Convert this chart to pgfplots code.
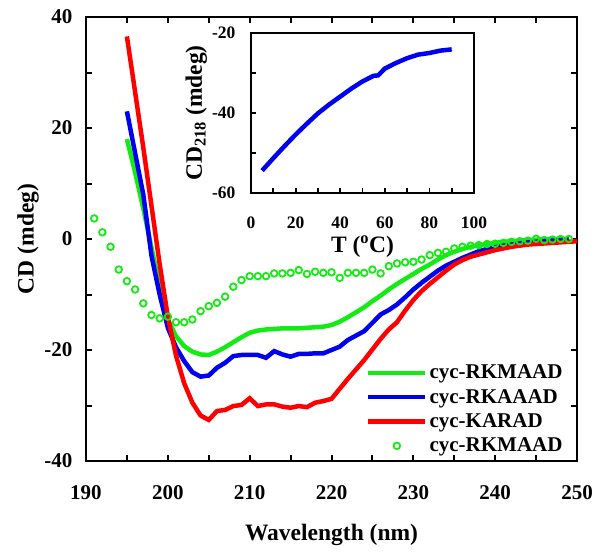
\documentclass[border=0pt]{standalone}
\usepackage{pgfplots}
\pgfplotsset{compat=1.18}
\usepackage{fontspec}
\setmainfont{Liberation Serif}
\definecolor{cgreen}{RGB}{20,235,20}
\definecolor{cblue}{RGB}{0,0,240}
\definecolor{cred}{RGB}{255,0,0}
\newcommand{\tickfont}{\fontsize{21bp}{24bp}\selectfont\bfseries}
\newcommand{\labfont}{\fontsize{23.5bp}{27bp}\selectfont\bfseries}
\newcommand{\insfont}{\fontsize{17.5bp}{20bp}\selectfont\bfseries}
\begin{document}
\begin{tikzpicture}
\path[use as bounding box] (-86bp,-96bp) rectangle (515bp,461bp);
\begin{axis}[
  at={(0bp,0bp)}, anchor=south west,
  scale only axis, width=491bp, height=444bp,
  xmin=190, xmax=250, ymin=-40, ymax=40,
  axis line style={line width=2.8bp},
  every tick/.style={line width=2bp, black},
  major tick length=6bp, minor tick length=6bp,
  tick align=inside,
  xtick={190,200,...,250}, xticklabels={190,200,210,220,230,240,250},
  minor xtick={195,205,...,245},
  ytick={-40,-20,0,20,40}, yticklabels={-40,-20,0,20,40},
  minor ytick={-30,-10,10,30},
  xticklabel style={font=\tickfont, yshift=-21bp},
  yticklabel style={font=\tickfont, xshift=-10bp},
  xlabel={Wavelength (nm)}, ylabel={CD (mdeg)},
  xlabel style={font=\labfont, at={(axis description cs:0.5,-0.1667)}, anchor=center},
  ylabel style={font=\labfont, at={(axis description cs:-0.118,0.5)}, anchor=center},
  legend style={at={(rel axis cs:0.975,0.012)}, anchor=south east, draw=none, fill=none,
    font=\fontsize{21bp}{24bp}\selectfont\bfseries, row sep=5bp, inner sep=0pt},
  legend cell align=left,
  legend image code/.code={\draw[mark repeat=2,mark phase=2,#1] plot coordinates {(0bp,0bp) (28.5bp,0bp) (57bp,0bp)};},
  clip=false,
]
\addplot[cgreen, line width=4.5bp] coordinates {
(195,18) (196,12) (197,5.5) (198,-1.5) (199,-8.5) (200,-14.5) (201,-17.5) (202,-19.3) (203,-20.3) (204,-20.8)
(205,-20.9) (206,-20.3) (207,-19.5) (208,-18.6) (209,-17.7) (210,-16.9) (211,-16.5) (212,-16.3) (213,-16.2) (214,-16.1)
(215,-16.1) (216,-16.1) (217,-16.0) (218,-15.9) (219,-15.8) (220,-15.5) (221,-14.9) (222,-14.1) (223,-13.2) (224,-12.3)
(225,-11.2) (226,-10.2) (227,-9.1) (228,-8.1) (229,-7.2) (230,-6.3) (231,-5.4) (232,-4.6) (233,-3.7) (234,-2.9)
(235,-2.3) (236,-1.8) (237,-1.4) (238,-1.1) (239,-0.9) (240,-0.7) (241,-0.5) (242,-0.4) (243,-0.3) (244,-0.2)
(245,-0.1) (246,0) (247,0) (248,0) (249,0)
};
\addlegendentry{cyc-RKMAAD}
\addplot[cblue, line width=4.5bp] coordinates {
(195,23) (196,15.5) (197,8) (198,-3) (199,-10) (200,-16) (201,-19.5) (202,-22) (203,-24) (204,-24.8)
(205,-24.6) (206,-23.2) (207,-22.3) (208,-21.1) (209,-20.9) (210,-20.9) (211,-20.9) (212,-21.4) (213,-20.2) (214,-20.8)
(215,-21.2) (216,-20.7) (217,-20.7) (218,-20.6) (219,-20.6) (220,-20.0) (221,-19.4) (222,-18.2) (223,-17.4) (224,-16.6)
(225,-15.1) (226,-13.6) (227,-12.8) (228,-11.8) (229,-10.5) (230,-9.1) (231,-7.9) (232,-6.8) (233,-5.7) (234,-4.8)
(235,-4.1) (236,-3.4) (237,-2.8) (238,-2.2) (239,-1.8) (240,-1.5) (241,-1.2) (242,-1.0) (243,-0.8) (244,-0.6)
(245,-0.5) (246,-0.4) (247,-0.3) (248,-0.2) (249,-0.1)
};
\addlegendentry{cyc-RKAAAD}
\addplot[cred, line width=4.5bp] coordinates {
(195,36.5) (196,26.5) (197,16.5) (198,6) (199,-4.5) (200,-14) (201,-21) (202,-26) (203,-29.5) (204,-31.8)
(205,-32.6) (206,-31) (207,-30.8) (208,-30.1) (209,-29.9) (210,-28.7) (211,-30.1) (212,-29.8) (213,-29.8) (214,-30.2)
(215,-30.4) (216,-30.1) (217,-30.3) (218,-29.5) (219,-29.2) (220,-28.8) (221,-27) (222,-25.2) (223,-23.5) (224,-21.8)
(225,-19.9) (226,-18) (227,-16.3) (228,-15) (229,-12.9) (230,-11) (231,-9.4) (232,-8.1) (233,-6.9) (234,-5.7)
(235,-4.6) (236,-3.8) (237,-3.2) (238,-2.8) (239,-2.4) (240,-2.0) (241,-1.7) (242,-1.4) (243,-1.2) (244,-1.0)
(245,-0.9) (246,-0.8) (247,-0.7) (248,-0.6) (249,-0.5) (250,-0.4)
};
\addlegendentry{cyc-KARAD}
\addplot[cgreen, only marks, mark=o, mark size=3.3bp, line width=1.8bp] coordinates {
(191,3.7) (192,1.2) (193,-1.4) (194,-5.5) (195,-7.6) (196,-9.1) (197,-11.6) (198,-13.7) (199,-14.3) (200,-14)
(201,-15) (202,-15) (203,-14.5) (204,-13) (205,-12.1) (206,-11.5) (207,-10.4) (208,-8.6) (209,-7.4) (210,-6.7)
(211,-6.7) (212,-6.7) (213,-6.2) (214,-6.2) (215,-6.1) (216,-5.6) (217,-6.3) (218,-5.9) (219,-6.1) (220,-6.0)
(221,-7.0) (222,-6.1) (223,-6.1) (224,-6.1) (225,-5.5) (226,-6.2) (227,-4.9) (228,-4.4) (229,-4.2) (230,-4.1)
(231,-3.7) (232,-2.9) (233,-2.5) (234,-2.3) (235,-1.7) (236,-1.4) (237,-1.2) (238,-1.1) (239,-0.9) (240,-0.85)
(241,-0.7) (242,-0.5) (243,-0.4) (244,-0.3) (245,0.05) (246,-0.2) (247,-0.1) (248,0) (249,0)
};
\addlegendentry{cyc-RKMAAD}
\end{axis}
\begin{axis}[
  at={(165bp,268bp)}, anchor=south west,
  scale only axis, width=223bp, height=160bp,
  xmin=0, xmax=100, ymin=-60, ymax=-20,
  axis line style={line width=2.4bp},
  every tick/.style={line width=1.8bp, black},
  major tick length=5bp, minor tick length=5bp,
  tick align=inside,
  xtick pos=bottom, ytick pos=left,
  xtick={0,20,...,100}, xticklabels={0,20,40,60,80,100},
  minor xtick={10,30,...,90},
  ytick={-60,-40,-20}, yticklabels={-60,-40,-20},
  minor ytick={-50,-30},
  xticklabel style={font=\insfont, yshift=-20bp},
  yticklabel style={font=\insfont, xshift=-12bp},
  xlabel={T (\textsuperscript{o}C)}, ylabel={CD\textsubscript{218} (mdeg)},
  xlabel style={font=\labfont, at={(axis description cs:0.5,-0.335)}, anchor=center},
  ylabel style={font=\labfont, at={(axis description cs:-0.245,0.5)}, anchor=center},
  axis background/.style={fill=white},
]
\addplot[cblue, line width=4.5bp] coordinates {
(5,-54.4) (10,-51.3) (15,-48.3) (20,-45.4) (25,-42.7) (30,-40.1) (35,-37.9) (40,-35.9) (45,-33.9) (50,-32.1)
(55,-30.7) (57,-30.6) (60,-28.9) (65,-27.5) (70,-26.3) (75,-25.4) (80,-25.0) (85,-24.4) (90,-24.1)
};
\end{axis}
\end{tikzpicture}
\end{document}
